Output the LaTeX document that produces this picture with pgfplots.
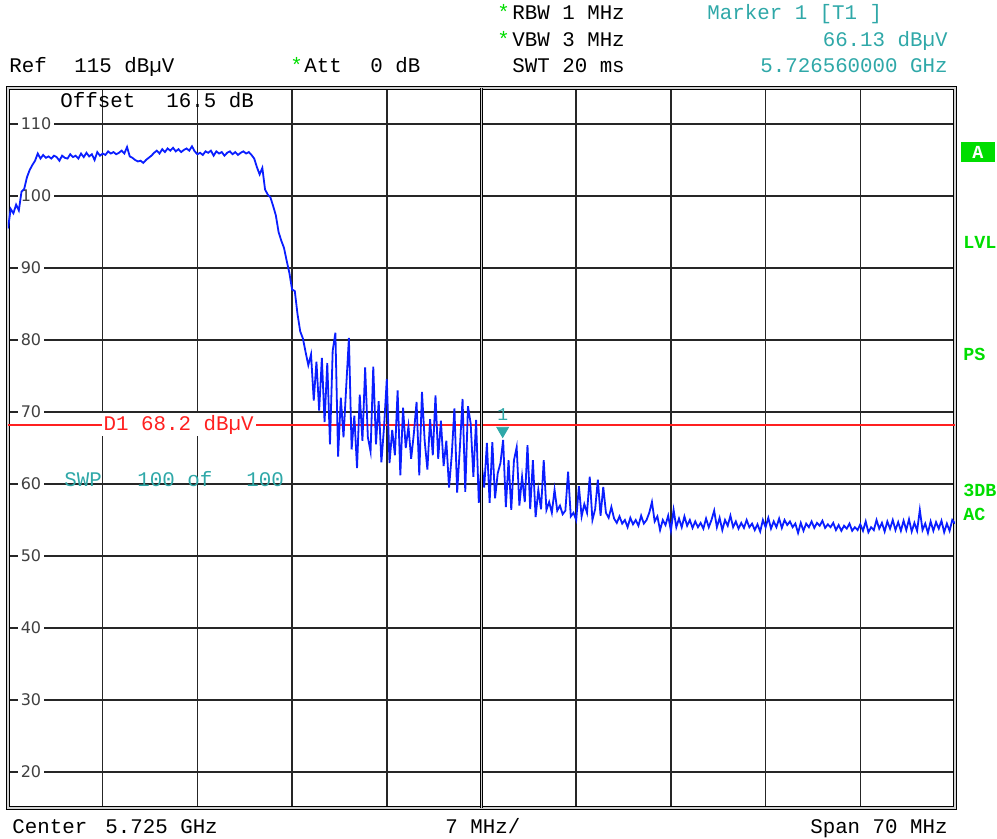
\documentclass[border=0pt]{standalone}
\usepackage{pgfplots}
\pgfplotsset{compat=1.18}
\usepackage{pgfplotstable}
\usepackage{fontspec}
\setmainfont{Liberation Mono}
\newfontfamily\dvs{DejaVu Sans}
\definecolor{mteal}{HTML}{2FA8A8}
\definecolor{mgreen}{HTML}{00DD00}
\definecolor{mred}{HTML}{FF2020}
\definecolor{mblue}{HTML}{0A1EFF}
\newcommand\mf{\fontsize{10.4pt}{12pt}\selectfont}
\newcommand\sidef{\fontsize{9.2pt}{11pt}\selectfont\bfseries}

\pgfplotstableread{
y
95.5
98.2
97.6
98.8
98.0
100.6
101.0
102.6
103.6
104.3
104.9
105.9
105.2
105.7
105.3
105.5
105.2
105.6
105.4
104.9
105.6
105.3
105.2
105.8
105.4
105.6
105.2
105.9
105.4
106.0
105.5
105.8
105.0
106.1
105.6
105.9
105.7
106.2
105.9
106.1
105.8
106.0
106.3
105.9
106.8
105.5
105.3
105.0
104.8
104.9
104.6
105.0
105.3
105.6
106.0
106.3
105.9
106.5
106.1
106.6
106.3
106.7
106.2
106.5
106.1
106.4
106.6
106.3
106.9
106.2
105.8
106.0
105.7
106.2
106.0
106.3
105.6
106.2
105.9
106.1
105.6
106.0
106.2
105.8
106.1
105.7
106.0
106.2
105.9
106.1
105.7
105.2
104.0
103.0
103.9
100.9
100.2
99.8
98.6
97.3
95.0
93.8
92.8
91.0
89.3
87.0
86.8
83.6
81.2
80.2
78.3
76.5
78.0
71.6
77.0
70.2
77.5
68.6
76.8
65.5
78.5
81.0
63.8
72.0
66.5
73.5
80.3
64.8
69.5
62.2
72.4
66.0
76.2
66.5
64.5
76.3
65.5
71.5
63.0
68.0
74.6
62.9
67.5
64.0
73.0
61.2
70.6
65.0
68.0
63.5
67.0
71.4
61.2
72.8
66.0
62.0
69.0
64.0
72.3
63.5
68.8
62.5
66.0
59.5
64.0
70.5
58.8
65.0
71.8
58.9
70.8
68.4
61.0
68.9
57.4
63.0
59.5
65.7
57.4
65.8
58.0
61.5
62.9
66.13
56.8
63.3
56.4
63.3
65.1
57.0
61.0
57.5
65.4
56.5
63.3
55.4
59.2
56.5
63.3
56.4
57.5
56.0
59.2
56.3
57.0
55.8
56.3
61.7
55.5
56.0
55.0
59.7
55.5
57.2
56.0
61.0
55.0
56.5
60.6
55.6
59.6
56.0
55.3
56.8
55.2
54.6
55.5
54.5
55.0
54.0
55.3
54.4
55.0
54.2
55.6
54.5
55.0
56.0
57.5
54.8
55.5
53.6
55.0
54.3
55.6
53.5
56.4
54.0
55.2
54.0
55.5
54.2
55.0
53.9
54.8
54.0
54.6
53.8
55.2
54.0
55.0
56.3
54.0
55.3
53.6
55.0
54.2
55.6
54.0
54.8
53.8
54.6
53.9
55.0
54.0
54.5
53.6
54.4
53.4
55.0
54.0
55.3
53.8
54.8
54.0
55.2
53.9
55.0
54.3
54.8
54.0
54.5
53.2
54.6
53.5
54.5
54.0
54.8
53.9
54.6
54.2
54.9
53.9
54.4
54.0
54.6
53.6
54.3
53.5
54.2
53.8
54.5
53.5
54.0
53.6
54.4
53.5
54.8
53.3
54.0
53.6
55.0
53.8
54.6
53.4
54.8
53.8
55.0
53.6
54.7
53.5
54.9
53.6
55.1
53.4
54.6
53.5
56.4
53.6
54.5
53.2
54.8
53.5
54.7
53.8
54.9
53.3
54.5
53.5
55.0
54.5
}\trace

\begin{document}
\begin{tikzpicture}
\useasboundingbox (0,0) rectangle (498.5pt,-419.5pt);
\begin{axis}[
  at={(4pt,-404pt)}, anchor=south west,
  scale only axis, width=473.5pt, height=360pt,
  xmin=-35, xmax=35, ymin=15, ymax=115,
  xtick={-28,-21,-14,-7,0,7,14,21,28}, xticklabels={},
  ytick={20,30,...,110},
  major tick length=0pt,
  grid=major,
  major grid style={draw=black!85, line width=0.75pt},
  axis line style={draw=black, line width=0.6pt, double=gray!35, double distance=0.9pt},
  /pgf/number format/assume math mode=true,
  yticklabel style={anchor=west, xshift=5pt, fill=white, inner sep=1.2pt, font=\dvs\fontsize{8pt}{9pt}\selectfont, text=black!75},
]
\addplot[mred, line width=0.7pt] coordinates {(-35,68.2) (35,68.2)};
\addplot[mblue, line width=0.9pt] table[x expr=\coordindex*0.2-35, y=y] {\trace};
\addplot[only marks, mark=triangle*, mark size=3.4pt, mteal, mark options={yshift=4.6pt, rotate=180, fill=mteal, draw=mteal}] coordinates {(1.5656,66.13)};
\draw[black, line width=0.5pt, double=gray!35, double distance=0.8pt] (axis cs:0,15) -- (axis cs:0,115);
\node[anchor=west, fill=white, inner sep=1pt, text=mred, font=\mf] at (axis cs:-28.1,68.2) {D1 68.2 dBµV};
\node[anchor=base, text=mteal, font=\fontsize{9pt}{10pt}\selectfont, inner sep=0pt] at (axis cs:1.5656,66.13) [yshift=9.5pt] {1};
\end{axis}
\begin{scope}[x=0.5pt,y=-0.5pt, every node/.style={font=\mf, inner sep=0pt, anchor=base west}]
\node[text=mgreen] at (497,20) {*};
\node at (512,20) {RBW 1 MHz};
\node[text=mteal] at (707,20) {Marker 1 [T1 ]};
\node[text=mgreen] at (497,47) {*};
\node at (512,47) {VBW 3 MHz};
\node[text=mteal, anchor=base east] at (948,47) {66.13 dBµV};
\node at (9,73) {Ref};
\node at (74,73) {115 dBµV};
\node[text=mgreen] at (290,73) {*};
\node at (304,73) {Att};
\node at (370,73) {0 dB};
\node at (512,73) {SWT 20 ms};
\node[text=mteal, anchor=base east] at (948,73) {5.726560000 GHz};
\node at (60,108) {Offset};
\node at (166,108) {16.5 dB};
\node[text=mteal] at (64,487) {SWP};
\node[text=mteal] at (137,487) {100 of};
\node[text=mteal] at (246,487) {100};
\node at (12,833) {Center};
\node at (105,833) {5.725 GHz};
\node at (445,833) {7 MHz/};
\node[anchor=base east] at (948,833) {Span 70 MHz};
\fill[mgreen] (961,142) rectangle (995,162);
\node[anchor=center, text=white, font=\sidef] at (978,152) {A};
\node[text=mgreen, font=\sidef] at (963,249) {LVL};
\node[text=mgreen, font=\sidef] at (963,361) {PS};
\node[text=mgreen, font=\sidef] at (963,497) {3DB};
\node[text=mgreen, font=\sidef] at (963,521) {AC};
\end{scope}
\end{tikzpicture}
\end{document}
